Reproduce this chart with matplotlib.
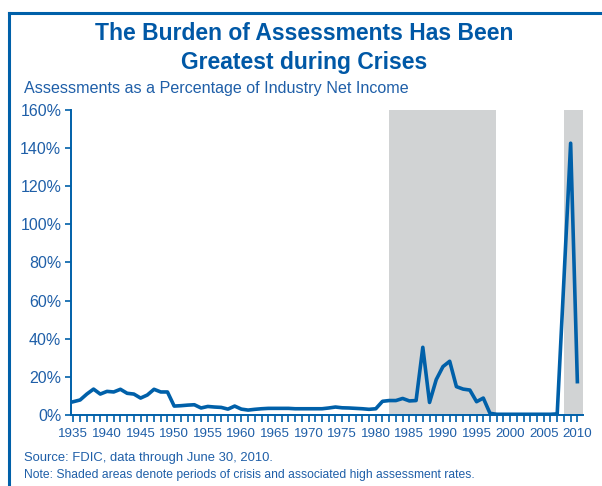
import numpy as np
import matplotlib
matplotlib.use("Agg")
import matplotlib.pyplot as plt
from matplotlib import font_manager
from matplotlib.lines import Line2D

# Assessments as % of industry net income, 1935-2010
years = list(range(1935, 2011))
pct = [
    7.0, 7.9, 11.0, 13.6, 11.0, 12.4, 12.1, 13.5, 11.4, 11.0,   # 1935-44
    8.9, 10.5, 13.5, 12.1, 12.1, 4.7, 4.9, 5.2, 5.4, 3.7,      # 1945-54
    4.5, 4.2, 4.0, 3.1, 4.7, 3.1, 2.6, 3.0, 3.3, 3.5,          # 1955-64
    3.5, 3.5, 3.5, 3.3, 3.3, 3.3, 3.3, 3.3, 3.7, 4.2,          # 1965-74
    3.8, 3.7, 3.5, 3.3, 3.0, 3.3, 7.2, 7.6, 7.6, 8.7,          # 1975-84
    7.4, 7.6, 35.5, 6.6, 18.6, 25.4, 28.2, 14.9, 13.6, 13.1,   # 1985-94
    7.0, 8.9, 0.9, 0.4, 0.4, 0.4, 0.4, 0.4, 0.4, 0.4,          # 1995-2004
    0.4, 0.4, 0.6, 71.0, 142.5, 17.5,                          # 2005-10
]
crisis_periods = [(1981.9, 1997.95), (2008.0, 2010.8)]
yticks = [0, 20, 40, 60, 80, 100, 120, 140, 160]
xlabel_years = list(range(1935, 2011, 5))

BLUE = "#0060a9"
TXT = "#1f5fa8"
GREY = "#d1d3d4"

names = {f.name for f in font_manager.fontManager.ttflist}
narrow = "Liberation Sans Narrow" if "Liberation Sans Narrow" in names else "Liberation Sans"

fig = plt.figure(figsize=(6.02, 4.86), dpi=100)
ax = fig.add_axes([0.118, 0.146, 0.850, 0.628])

for a, b in crisis_periods:
    ax.axvspan(a, b, ymin=0, ymax=1, color=GREY, lw=0, zorder=0)

ax.plot(years, pct, color=BLUE, lw=2.6, solid_joinstyle="round", zorder=3)

ax.set_xlim(1934.65, 2010.8)
ax.set_ylim(0, 160)
ax.set_yticks(yticks)
ax.set_yticklabels([f"{v}%" for v in yticks], family=narrow, fontsize=11.5, color=TXT)
ax.set_xticks(years, minor=True)
ax.set_xticks(xlabel_years)
ax.set_xticklabels([str(y) for y in xlabel_years], family=narrow, fontsize=9.6, color=TXT)
ax.tick_params(axis="x", which="both", direction="out", length=5, width=1.2, color=BLUE, pad=4)
ax.tick_params(axis="y", direction="out", length=4, width=1.2, color=BLUE, pad=3)

for s in ["top", "right"]:
    ax.spines[s].set_visible(False)
for s in ["left", "bottom"]:
    ax.spines[s].set_color(BLUE)
    ax.spines[s].set_linewidth(1.4)

# outer frame on left and top
fig.add_artist(Line2D([9 / 602, 9 / 602], [0, 1 - 13 / 486], color=BLUE, lw=2.2,
                      transform=fig.transFigure))
fig.add_artist(Line2D([9 / 602, 1], [1 - 13 / 486, 1 - 13 / 486], color=BLUE, lw=2.2,
                      transform=fig.transFigure))

fig.text(0.506, 1 - 33 / 486, "The Burden of Assessments Has Been", ha="center", va="center",
         family=narrow, fontsize=16.5, fontweight="bold", color="#0058a6")
fig.text(0.506, 1 - 62 / 486, "Greatest during Crises", ha="center", va="center",
         family=narrow, fontsize=16.5, fontweight="bold", color="#0058a6")
fig.text(24 / 602, 1 - 88 / 486, "Assessments as a Percentage of Industry Net Income",
         ha="left", va="center", family=narrow, fontsize=11.6, color=TXT)
fig.text(24 / 602, 1 - 458 / 486, "Source: FDIC, data through June 30, 2010.",
         ha="left", va="center", family=narrow, fontsize=9.4, color=TXT)
fig.text(24 / 602, 1 - 475 / 486,
         "Note: Shaded areas denote periods of crisis and associated high assessment rates.",
         ha="left", va="center", family=narrow, fontsize=8.7, color=TXT)

fig.savefig("out.png", dpi=100)
